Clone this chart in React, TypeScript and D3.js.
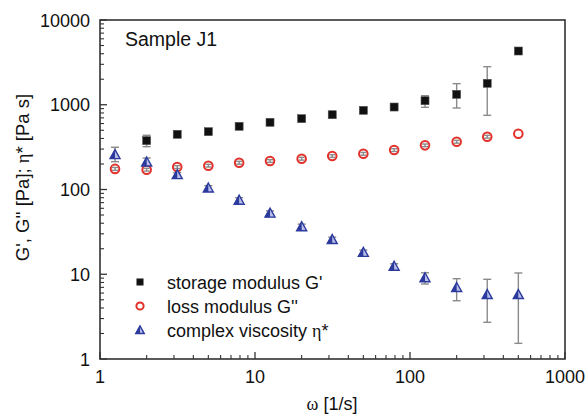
import React from "react";
import * as d3 from "d3";

const omega = [1.25, 2, 3.15, 5, 7.9, 12.5, 20, 31.5, 50, 79, 125, 200, 315, 500];
const storage: (number | null)[] = [null, 377, 448, 481, 557, 621, 685, 763, 860, 940, 1116, 1328, 1791, 4306];
const storageLo: (number | null)[] = [null, 320, 415, 455, 530, 595, 660, 735, 830, 905, 933, 916, 750, null];
const storageHi: (number | null)[] = [null, 436, 485, 510, 585, 650, 712, 790, 890, 975, 1279, 1774, 2812, null];
const loss: number[] = [175, 171, 184, 191, 207, 217, 231, 248, 264, 292, 332, 366, 420, 455];
const lossLo: (number | null)[] = [168, 165, 177, 184, 199, 209, 222, 239, 254, 281, 320, 352, 404, null];
const lossHi: (number | null)[] = [182, 178, 191, 198, 215, 225, 240, 257, 274, 303, 344, 380, 436, null];
const eta: number[] = [255, 209, 148, 103, 74, 52, 36, 25.4, 17.9, 12.3, 9.0, 6.9, 5.7, 5.7];
const etaLo: (number | null)[] = [213, 190, 138, 95, 68, 48, 33, 23.4, 16.5, 11.3, 7.67, 4.87, 2.71, 1.53];
const etaHi: (number | null)[] = [315, 235, 158, 111, 80, 56, 39, 27.4, 19.3, 13.3, 10.4, 8.86, 8.72, 10.35];

const xTickLabels = ["1", "10", "100", "1000"];
const yTickLabels = ["1", "10", "100", "1000", "10000"];
const legendLabels = ["storage modulus G'", "loss modulus G''", "complex viscosity "];

const L = 100, R = 565, T = 20, B = 359;
const FONT = "'Liberation Sans', Arial, sans-serif";
const BLUE = "#2c3a9e";
const RED = "#e2302a";
const ERR = "#8a8a8a";

export default function App() {
  const x = d3.scaleLog().domain([1, 1000]).range([L, R]);
  const y = d3.scaleLog().domain([1, 10000]).range([B, T]);

  const xMinor: number[] = [];
  for (let d = 1; d < 1000; d *= 10) for (let k = 2; k <= 9; k++) xMinor.push(d * k);
  const yMinor: number[] = [];
  for (let d = 1; d < 10000; d *= 10) for (let k = 2; k <= 9; k++) yMinor.push(d * k);

  const errBar = (i: number, lo: number | null, hi: number | null, cap: number, key: string) => {
    if (lo == null || hi == null) return null;
    const cx = x(omega[i]);
    return (
      <g key={key} stroke={ERR} strokeWidth={1.4}>
        <line x1={cx} x2={cx} y1={y(lo)} y2={y(hi)} />
        <line x1={cx - cap / 2} x2={cx + cap / 2} y1={y(lo)} y2={y(lo)} />
        <line x1={cx - cap / 2} x2={cx + cap / 2} y1={y(hi)} y2={y(hi)} />
      </g>
    );
  };

  const square = (cx: number, cy: number, key: string, s = 8) => (
    <rect key={key} x={cx - s / 2} y={cy - s / 2} width={s} height={s} fill="#111" stroke="#555" strokeWidth={0.6} />
  );
  const circle = (cx: number, cy: number, key: string, r = 4.3) => (
    <circle key={key} cx={cx} cy={cy} r={r} fill="none" stroke={RED} strokeWidth={2} />
  );
  const triangle = (cx: number, cy: number, key: string, sc = 1) => {
    const h = 9 * sc, w = 10 * sc;
    const top = cy - h * 0.6, bot = cy + h * 0.4;
    return (
      <g key={key}>
        <path d={`M${cx},${top}L${cx + w / 2},${bot}L${cx - w / 2},${bot}Z`} fill="#b9bfe6" stroke={BLUE} strokeWidth={1.4} strokeLinejoin="miter" />
        <path d={`M${cx},${top}L${cx},${bot}L${cx - w / 2},${bot}Z`} fill={BLUE} />
      </g>
    );
  };

  const legendY = [282, 306, 330.5];

  return (
    <svg width={585} height={415} style={{ position: "absolute", left: 0, top: 0, background: "#fff" }} fontFamily={FONT}>
      <rect x={0} y={0} width={585} height={415} fill="#fff" />

      {/* error bars */}
      {omega.map((_, i) => errBar(i, storageLo[i], storageHi[i], 8, "se" + i))}
      {omega.map((_, i) => errBar(i, lossLo[i], lossHi[i], 6, "le" + i))}
      {omega.map((_, i) => errBar(i, etaLo[i], etaHi[i], 8, "ee" + i))}

      {/* markers */}
      {omega.map((w, i) => (storage[i] == null ? null : square(x(w), y(storage[i] as number), "s" + i)))}
      {omega.map((w, i) => circle(x(w), y(loss[i]), "c" + i))}
      {omega.map((w, i) => triangle(x(w), y(eta[i]), "t" + i))}

      {/* frame */}
      <rect x={L} y={T} width={R - L} height={B - T} fill="none" stroke="#333" strokeWidth={1.6} />

      {/* x ticks */}
      {[1, 10, 100, 1000].map((v) => (
        <line key={"xM" + v} x1={x(v)} x2={x(v)} y1={B} y2={B - 7} stroke="#333" strokeWidth={1.3} />
      ))}
      {xMinor.map((v) => (
        <line key={"xm" + v} x1={x(v)} x2={x(v)} y1={B} y2={B - 4} stroke="#333" strokeWidth={1.1} />
      ))}
      {[1, 10, 100, 1000].map((v, i) => (
        <text key={"xl" + v} x={x(v)} y={383} textAnchor="middle" fontSize={18} fill="#111">
          {xTickLabels[i]}
        </text>
      ))}

      {/* y ticks */}
      {[1, 10, 100, 1000, 10000].map((v) => (
        <line key={"yM" + v} x1={L} x2={L + 7} y1={y(v)} y2={y(v)} stroke="#333" strokeWidth={1.3} />
      ))}
      {yMinor.map((v) => (
        <line key={"ym" + v} x1={L} x2={L + 4} y1={y(v)} y2={y(v)} stroke="#333" strokeWidth={1.1} />
      ))}
      {[1, 10, 100, 1000, 10000].map((v, i) => (
        <text key={"yl" + v} x={90} y={y(v) + 6.5} textAnchor="end" fontSize={18} fill="#111">
          {yTickLabels[i]}
        </text>
      ))}

      {/* axis titles */}
      <text x={332} y={410} textAnchor="middle" fontSize={18} fill="#111">
        <tspan fontFamily="'Liberation Serif', serif">ω</tspan> [1/s]
      </text>
      <text transform="translate(29,177.5) rotate(-90)" textAnchor="middle" fontSize={18.5} fill="#111">
        G', G'' [Pa]; <tspan fontFamily="'Liberation Serif', serif">η</tspan>* [Pa s]
      </text>

      {/* sample label */}
      <text x={125} y={46} fontSize={19.5} fill="#111">Sample J1</text>

      {/* legend */}
      {square(140, legendY[0], "lg0", 6.5)}
      {circle(140, legendY[1], "lg1", 3.6)}
      {triangle(140, legendY[2], "lg2", 0.85)}
      {legendLabels.map((t, i) => (
        <text key={"lt" + i} x={167} y={legendY[i] + 6.5} fontSize={18} fill="#111">
          {t}
          {i === 2 ? <tspan fontFamily="'Liberation Serif', serif">η</tspan> : null}
          {i === 2 ? "*" : null}
        </text>
      ))}
    </svg>
  );
}
